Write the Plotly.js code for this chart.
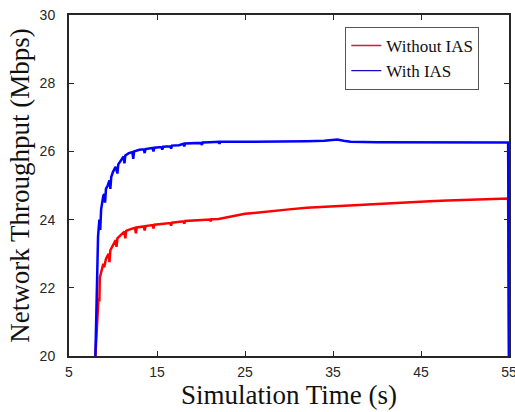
<!DOCTYPE html>
<html>
<head>
<meta charset="utf-8">
<script src="https://cdn.plot.ly/plotly-3.0.1.min.js"></script>
<style>html,body{margin:0;padding:0;background:#fff;}#chart{width:515px;height:412px;}</style>
</head>
<body>
<div id="chart"></div>
<script>
// With IAS (blue)
const timeWith = [8.0,8.15,8.3,8.45,8.55,8.65,8.8,8.9,9.0,9.1,9.2,9.4,9.6,9.7,9.8,10.0,10.3,10.5,10.6,10.9,11.2,11.3,11.4,11.8,12.2,12.3,12.4,13.0,13.5,13.6,13.7,14.5,14.6,14.7,15.5,15.6,15.7,16.5,16.6,16.7,17.5,18.0,18.1,18.2,19.0,20.0,20.1,20.2,21.0,22.0,22.1,22.2,24.0,26.0,28.0,30.0,32.0,34.0,35.0,35.5,36.2,37.0,40.0,45.0,50.0,54.9,55.0];
const throughputWith = [20.0,22.0,23.5,24.0,23.7,24.3,24.6,24.7,24.75,24.5,24.9,25.0,25.15,24.9,25.25,25.4,25.55,25.35,25.62,25.75,25.85,25.65,25.88,25.95,25.98,25.78,26.0,26.05,26.06,25.95,26.07,26.1,26.0,26.11,26.13,26.05,26.14,26.15,26.08,26.17,26.18,26.22,26.15,26.23,26.24,26.25,26.19,26.26,26.27,26.28,26.23,26.28,26.28,26.28,26.29,26.29,26.3,26.31,26.33,26.35,26.31,26.28,26.27,26.27,26.26,26.26,20.0];

// Without IAS (red)
const timeWithout = [8.0,8.2,8.35,8.45,8.5,8.7,8.9,9.0,9.2,9.5,9.6,9.7,10.0,10.3,10.4,10.5,10.9,11.3,11.4,11.5,12.0,12.5,12.6,12.7,13.5,13.6,13.7,14.5,14.6,14.7,15.5,16.5,16.6,16.7,18.0,18.1,18.2,19.5,20.0,21.0,21.1,21.2,22.0,23.0,24.0,25.0,26.0,28.0,30.0,32.0,34.0,36.0,38.0,40.0,42.0,44.0,46.0,48.0,50.0,52.0,54.9,55.0];
const throughputWithout = [20.0,21.0,21.7,21.6,22.3,22.5,22.7,22.6,22.85,23.0,22.75,23.1,23.25,23.4,23.2,23.45,23.55,23.65,23.45,23.67,23.72,23.76,23.6,23.77,23.8,23.68,23.81,23.84,23.74,23.85,23.87,23.9,23.82,23.91,23.95,23.88,23.96,23.98,23.98,24.0,23.95,24.01,24.02,24.06,24.12,24.17,24.2,24.26,24.3,24.35,24.38,24.41,24.43,24.45,24.48,24.51,24.54,24.56,24.58,24.6,24.62,20.0];

const seriesNames = ['Without IAS', 'With IAS'];
const seriesColors = ['#ff0000', '#0000ff'];
const xTicks = [5, 15, 25, 35, 45, 55];
const yTicks = [20, 22, 24, 26, 28, 30];

const traces = [
  {x: timeWithout, y: throughputWithout, name: seriesNames[0], mode: 'lines', showlegend: false,
   line: {color: seriesColors[0], width: 2.5}},
  {x: timeWith, y: throughputWith, name: seriesNames[1], mode: 'lines', showlegend: false,
   line: {color: seriesColors[1], width: 2.5}},
  // legend entries (thin sample lines as in the reference)
  {x: [null], y: [null], name: seriesNames[0], mode: 'lines', showlegend: true,
   line: {color: '#d02020', width: 1.3}},
  {x: [null], y: [null], name: seriesNames[1], mode: 'lines', showlegend: true,
   line: {color: '#1010c0', width: 1.3}}
];

const axisCommon = {
  showgrid: false, zeroline: false, showline: true, linecolor: '#262626', linewidth: 2,
  mirror: 'ticks', ticks: 'inside', ticklen: 5, tickwidth: 1, tickcolor: '#262626',
  ticklabeloverflow: 'allow',
  tickfont: {family: 'Liberation Sans, Arial, sans-serif', size: 14, color: '#262626'}
};

const layout = {
  width: 515, height: 412,
  margin: {l: 69, r: 6, t: 15, b: 56},
  paper_bgcolor: '#fff', plot_bgcolor: '#fff',
  showlegend: true,
  legend: {x: 0.628, y: 0.965, xanchor: 'left', yanchor: 'top',
    bgcolor: '#fff', bordercolor: '#555', borderwidth: 1, itemwidth: 30,
    font: {family: 'Liberation Serif, Times New Roman, serif', size: 17, color: '#111'}},
  xaxis: Object.assign({}, axisCommon, {
    range: [5, 55], tickvals: xTicks, ticktext: xTicks.map(String), ticklabelstandoff: 2,
    title: {text: 'Simulation Time (s)', standoff: 2,
      font: {family: 'Liberation Serif, Times New Roman, serif', size: 27, color: '#111'}}
  }),
  yaxis: Object.assign({}, axisCommon, {
    range: [20, 30], tickvals: yTicks, ticktext: yTicks.map(String), ticklabelstandoff: 9,
    title: {text: 'Network Throughput (Mbps)', standoff: 2,
      font: {family: 'Liberation Serif, Times New Roman, serif', size: 27, color: '#111'}}
  })
};

Plotly.newPlot('chart', traces, layout, {displayModeBar: false, staticPlot: true});
</script>
</body>
</html>
